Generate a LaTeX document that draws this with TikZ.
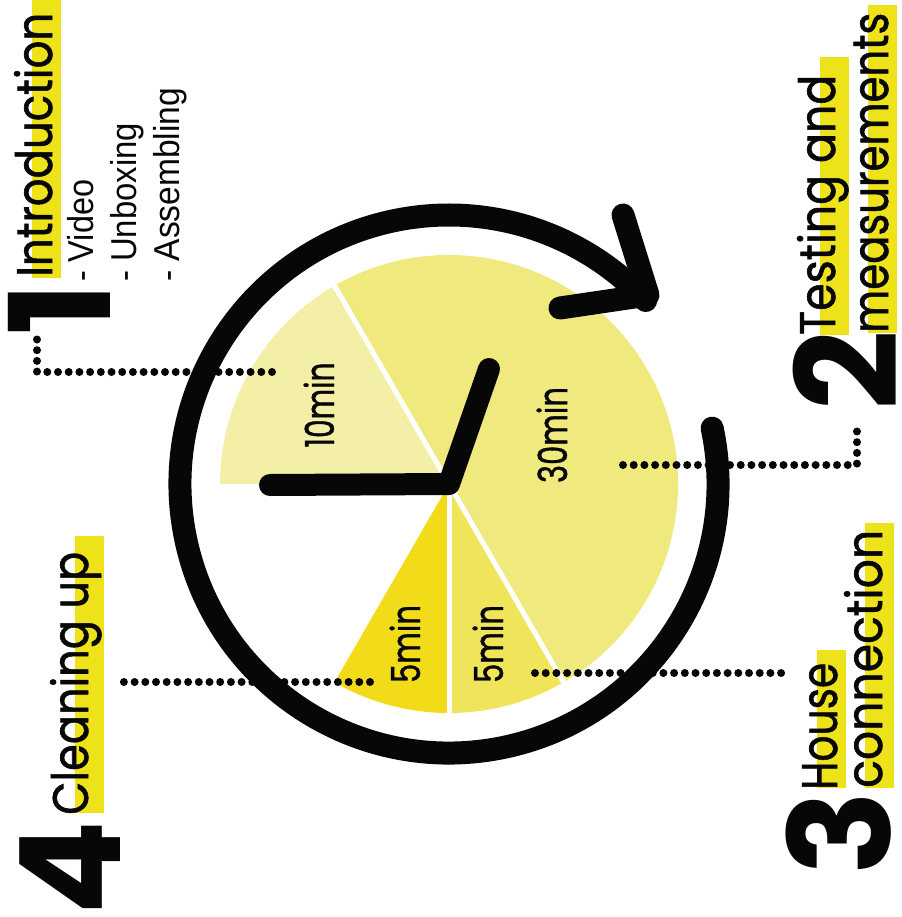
\documentclass[tikz,border=0pt]{standalone}
\usepackage{fontspec}
\usepackage{graphicx}
\setmainfont{Poppins}
\newfontfamily\headfont{Poppins}[FakeBold=1.2]
\newfontfamily\listfont{Liberation Sans}
\usetikzlibrary{calc}
\definecolor{ink}{HTML}{070707}
\definecolor{pieA}{HTML}{F4EFA6}
\definecolor{pieB}{HTML}{F0E97D}
\definecolor{pieC}{HTML}{F0E55A}
\definecolor{pieD}{HTML}{F2DC1A}
\definecolor{hilite}{HTML}{EEE21A}
\newcommand{\fitw}[2]{\resizebox{#1}{\height}{#2}}
\tikzset{
  ring/.style={draw=ink,line width=23pt,line cap=round,line join=round},
  hand/.style={draw=ink,line width=22pt,line cap=round,line join=round},
  leader/.style={draw=ink,line width=8pt,line cap=round,dash pattern=on 0pt off 10.7pt},
  gap/.style={draw=white,line width=5pt},
  head/.style={rotate=90,anchor=base west,inner sep=0pt,text=ink,font=\headfont\fontsize{50}{50}\selectfont},
  num/.style={rotate=90,anchor=base,inner sep=0pt,text=ink,font=\bfseries\fontsize{140}{140}\selectfont},
  item/.style={rotate=90,anchor=base west,inner sep=0pt,text=ink,font=\listfont\fontsize{36}{36}\selectfont},
  tlabel/.style={rotate=90,anchor=base,inner sep=0pt,text=ink,font=\headfont\fontsize{40}{40}\selectfont},
}

\begin{document}
\begin{tikzpicture}[x=1pt,y=1pt]
\useasboundingbox (0,0) rectangle (901,-917);
\coordinate (c) at (449,-484);
% pie slices, 1 min = 6 degrees
\fill[pieA] (c) -- ++(120:229) arc[start angle=120,end angle=180,radius=229] -- cycle;
\fill[pieB] (c) -- ++(-60:229) arc[start angle=-60,end angle=120,radius=229] -- cycle;
\fill[pieC] (c) -- ++(-90:229) arc[start angle=-90,end angle=-60,radius=229] -- cycle;
\fill[pieD] (c) -- ++(-120:229) arc[start angle=-120,end angle=-90,radius=229] -- cycle;
\foreach \a in {120,-60,-90} \draw[gap] (c) -- ++(\a:232);

% clock ring and arrow
\draw[ring] ($(c)+(12:269)$) arc[start angle=12,end angle=-317,radius=269];
\draw[ring] (560,-308) -- (648,-295) -- (623,-215);
\draw[hand] (270,-485) -- (c) -- (489,-369);

% leaders
\coordinate (s10) at (272,-372);
\coordinate (s30) at (623,-465);
\coordinate (s5b) at (535,-673);
\coordinate (s5a) at (370,-682);
\draw[leader] (s10) -- (37,-372) -- (37,-330);
\draw[leader] (s30) -- (857,-465) -- (857,-423);
\draw[leader] (s5b) -- (788,-673);
\draw[leader] (s5a) -- (117,-682);

% marker bars
\fill[hilite] (32,0) rectangle (61,-278);
\fill[hilite] (820,-57) rectangle (849,-335);
\fill[hilite] (868,-5) rectangle (897,-333);
\fill[hilite] (817,-650) rectangle (846,-788);
\fill[hilite] (865,-523) rectangle (894,-788);
\fill[hilite] (75,-536) rectangle (104,-813);

% headings
\node[num] (n1) at (110,-309) {1};
\node[head] (intro) at (52,-277) {\fitw{264pt}{Introduction}};
\foreach \t/\x/\w in {Video/93/102,Unboxing/136/159,Assembling/179/194}
  \node[item] (item\t) at (\x,-282) {\fitw{\w pt}{- \t}};
\node[num] (n2) at (897,-371) {2};
\node[head] (test) at (835,-335) {\fitw{260pt}{Testing and}};
\node[head] (meas) at (888,-333) {\fitw{320pt}{measurements}};
\node[num] (n3) at (890,-833) {3};
\node[head] (house) at (837,-790) {\fitw{127pt}{House}};
\node[head] (conn) at (882,-788) {\fitw{258pt}{connection}};
\node[num] (n4) at (120,-868) {4};
\node[head] (clean) at (88,-815) {\fitw{263pt}{Cleaning up}};

% times
\node[tlabel] (m10) at (334,-405) {\fitw{85pt}{10min}};
\node[tlabel] (m30) at (567,-435) {\fitw{96pt}{30min}};
\node[tlabel] (m5a) at (420,-644) {\fitw{78pt}{5min}};
\node[tlabel] (m5b) at (503,-644) {\fitw{78pt}{5min}};
\end{tikzpicture}
\end{document}
